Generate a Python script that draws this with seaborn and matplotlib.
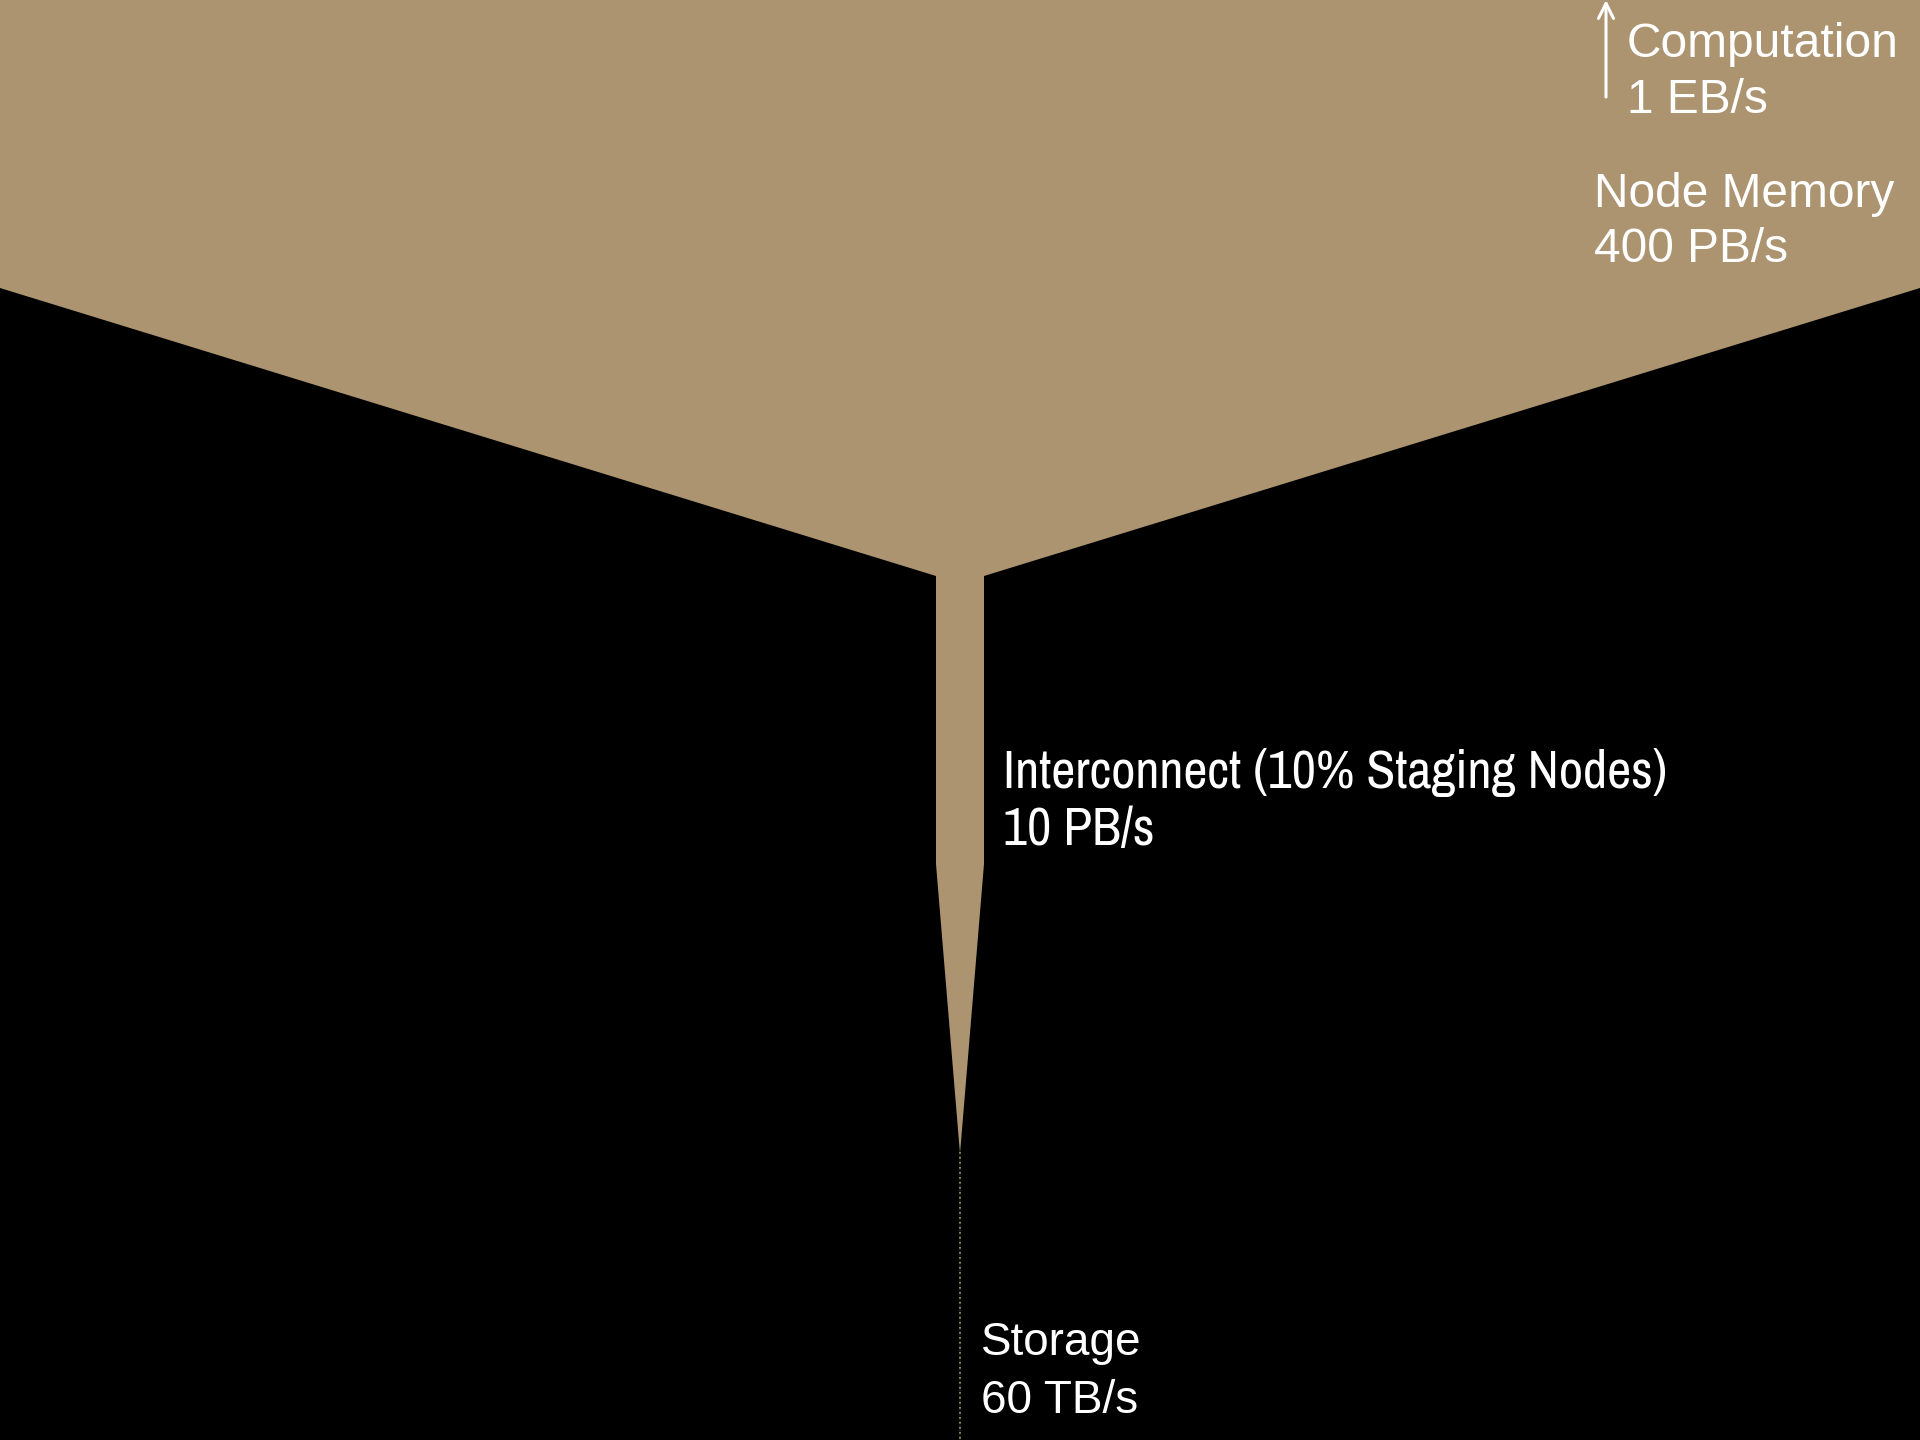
import numpy as np
import pandas as pd
import matplotlib
matplotlib.use("Agg")
import matplotlib.pyplot as plt
from matplotlib import font_manager as fm
import seaborn as sns

# ---- data ----
levels = ["Computation", "Node Memory", "Interconnect (10% Staging Nodes)", "Storage"]
bandwidth_labels = ["1 EB/s", "400 PB/s", "10 PB/s", "60 TB/s"]
bandwidth_pbs = [1000.0, 400.0, 10.0, 0.06]   # PB/s

# funnel profile (stage index down the page -> bandwidth width)
stage_y = [0, 1, 2, 3, 4, 5]
stage_bw = [400.0, 400.0, 10.0, 10.0, 0.06, 0.06]

TAN = "#AC9470"

sns.set_theme(style="white")
plt.rcParams["font.family"] = ["Liberation Sans", "DejaVu Sans"]

# look for a condensed sans face for the interconnect label
names = sorted({f.name for f in fm.fontManager.ttflist})
cond = [n for n in names if ("Narrow" in n or "Condensed" in n) and "Mono" not in n and "Serif" not in n]
pref = [n for n in cond if "Liberation" in n] + [n for n in cond if "Liberation" not in n]
narrow_family = pref[0] if pref else None

fig = plt.figure(figsize=(19.2, 14.4), dpi=100, facecolor="black")
ax = fig.add_axes([0, 0, 1, 1])
ax.set_facecolor("black")

half = np.array(stage_bw) / 2.0
prof = pd.DataFrame({"y": stage_y, "left": -half, "right": half})
ax.fill_betweenx(prof["y"], prof["left"], prof["right"], color=TAN, lw=0)

# storage: too thin to be visible -> dotted trace
stor = prof[prof["y"] >= 4]
sns.lineplot(data=stor, x=stor["left"] * 0, y="y", orient="y", sort=False,
             estimator=None, color=TAN, lw=1.2, linestyle=(0, (1, 2)), ax=ax)

ax.set_xlim(-200, 200)
ax.set_ylim(5, 0)
ax.set_axis_off()

W, H = 1920.0, 1440.0
def put(txt, px, py, size, family=None, **kw):
    ax.text(px / W, 1 - py / H, txt, transform=ax.transAxes, color="white",
            fontsize=size, va="baseline", ha="left",
            family=family or ["Liberation Sans", "DejaVu Sans"], **kw)

# Computation (off the chart, arrow up)
put(levels[0], 1627, 57, 34.5)
put(bandwidth_labels[0], 1627, 113, 34.5)
ax.annotate("", xy=(1606 / W, 1.0), xytext=(1606 / W, 1 - 97 / H),
            xycoords="axes fraction", textcoords="axes fraction",
            arrowprops=dict(arrowstyle="->,head_length=0.9,head_width=0.45",
                            color="white", lw=2.2, shrinkA=0, shrinkB=0))

# Node memory
put(levels[1], 1594, 207, 34.5)
put(bandwidth_labels[1], 1594, 262, 34.5)

# Interconnect (condensed lettering)
if narrow_family:
    put(levels[2], 1003, 788, 38, family=[narrow_family, "Liberation Sans"])
    put(bandwidth_labels[2], 1003, 845, 38, family=[narrow_family, "Liberation Sans"])
else:
    put(levels[2], 1003, 788, 29)
    put(bandwidth_labels[2], 1003, 845, 29)

# Storage
put(levels[3], 981, 1355, 33)
put(bandwidth_labels[3], 981, 1413, 33)

fig.savefig("out.png", dpi=100, facecolor="black")
